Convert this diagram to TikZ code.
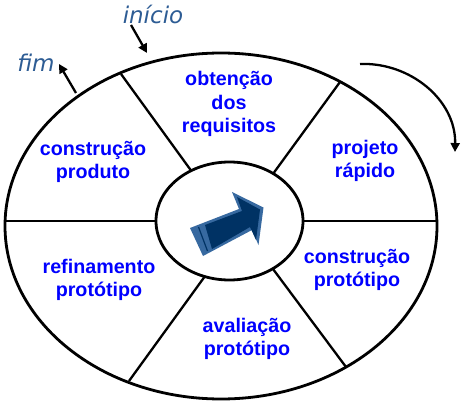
\documentclass[tikz,border=0pt]{standalone}
\usepackage{fontspec}
\setmainfont{Liberation Sans}
\newfontfamily\handfont{DejaVu Sans}
\usetikzlibrary{arrows.meta,shapes.geometric}
\definecolor{labelblue}{RGB}{0,0,255}
\definecolor{notegrey}{RGB}{45,92,148}
\definecolor{arrdark}{RGB}{0,50,100}
\definecolor{arrlight}{RGB}{55,105,160}
\begin{document}
\begin{tikzpicture}[x=1pt,y=-1pt,
  phase/.style={text=labelblue,font=\fontsize{19.7}{23.5}\selectfont\bfseries,align=center,inner sep=0pt},
  note/.style={text=notegrey,font=\handfont\itshape\fontsize{23}{26}\selectfont,inner sep=0pt},
  ring/.style={line width=2.8pt,ellipse,inner sep=0pt},
  spoke/.style={line width=2.3pt},
  pointer/.style={line width=2.3pt,-{Triangle[length=9pt,width=9pt]}}]
\useasboundingbox (0,0) rectangle (465,403);
% spokes
\coordinate (o1) at (121,74);   \coordinate (i1) at (195,176);
\coordinate (o2) at (340,82);   \coordinate (i2) at (270,178);
\coordinate (o3) at (129,381);  \coordinate (i3) at (208,272);
\coordinate (o4) at (346,367);  \coordinate (i4) at (270,265);
\coordinate (o5) at (5,221);    \coordinate (i5) at (165,221);
\coordinate (o6) at (437,221);  \coordinate (i6) at (295,221);
\foreach \k in {1,...,6} \draw[spoke] (o\k) -- (i\k);
% outer ring
\node[draw,ring,minimum width=432pt,minimum height=346pt] (outer) at (221,226) {};
% inner hub
\node[draw,ring,fill=white,minimum width=147pt,minimum height=118pt] (hub) at (229.5,221) {};
% 3D arrow
\fill[arrlight] (190,228) -- (239,209) -- (232,192) -- (263.5,207.5) -- (258.5,245) -- (252,230) -- (203,256) -- cycle;
\fill[arrdark] (205,225) -- (242,211) -- (237,197) -- (260,209.5) -- (256,240) -- (250,227) -- (212,249) -- cycle;
\draw[arrdark,line width=1.2pt] (198.5,227) -- (207.5,251);
% labels
\node[phase] (req) at (229,104) {obtenção\\dos\\requisitos};
\node[phase] (proj) at (365,161) {projeto\\rápido};
\node[phase] (cprot) at (357,270) {construção\\protótipo};
\node[phase] (aval) at (247,339) {avaliação\\protótipo};
\node[phase] (ref) at (99,280) {refinamento\\protótipo};
\node[phase] (cprod) at (93,162) {construção\\produto};
% notes
\node[note] (ini) at (153,14) {início};
\node[note] (fim) at (36,63) {fim};
\coordinate (inistart) at (131,25);
\coordinate (iniend) at (147,53);
\coordinate (fimstart) at (76,93);
\coordinate (fimend) at (59,64);
\draw[pointer] (inistart) -- (iniend);
\draw[pointer] (fimstart) -- (fimend);
% rotation arrow
\coordinate (rs) at (360,64);
\coordinate (re) at (455,152);
\draw[pointer] (rs) .. controls (410,62) and (456,100) .. (re);
\end{tikzpicture}
\end{document}
